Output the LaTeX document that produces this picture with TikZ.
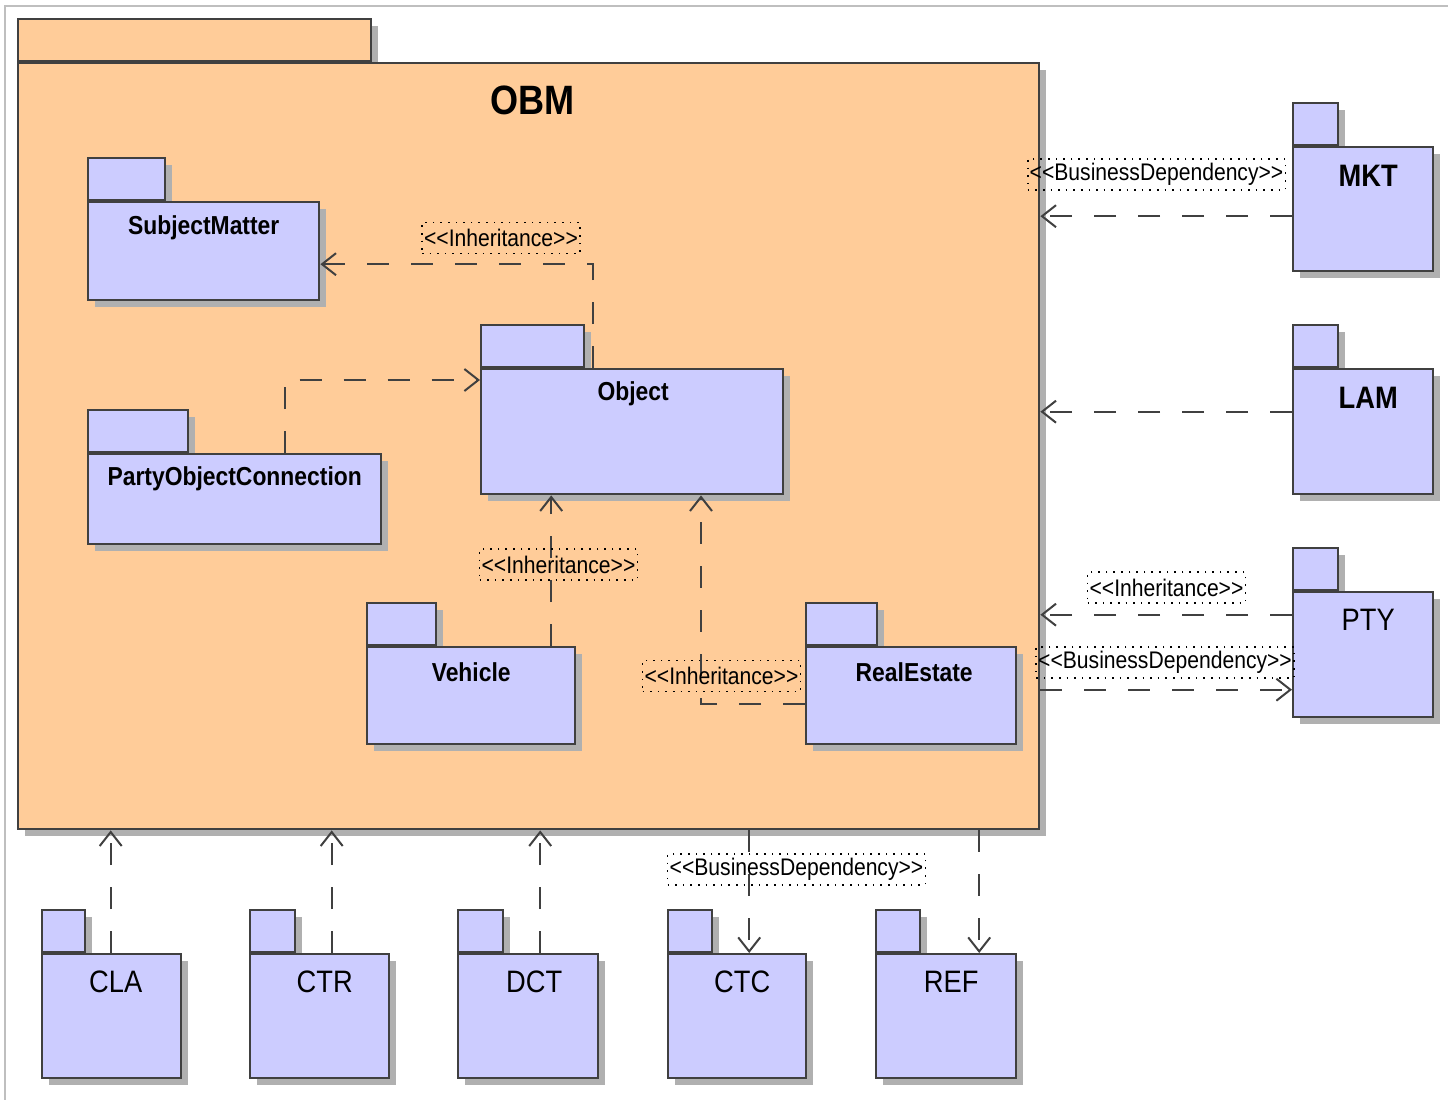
\documentclass[tikz,border=0pt]{standalone}
\usepackage{fontspec}
\newfontfamily\umlfont{Liberation Sans}[FakeStretch=0.88]
\usepackage{tikz}
\usetikzlibrary{arrows.meta, shadows}

\definecolor{pkgfill}{HTML}{CCCCFF}
\definecolor{obmfill}{HTML}{FFCC99}
\definecolor{pkgline}{HTML}{404040}
\definecolor{shadowgray}{HTML}{B0B0B0}

\def\namefont{\umlfont\bfseries\fontsize{26}{30}\selectfont}
\def\bigbold{\umlfont\bfseries\fontsize{31}{36}\selectfont}
\def\bigplain{\umlfont\fontsize{31}{36}\selectfont}
\def\titlefont{\umlfont\bfseries\fontsize{41}{48}\selectfont}
\def\stereofont{\umlfont\fontsize{24}{28}\selectfont}
\def\stl{<\kern0pt<}
\def\str{>\kern0pt>}

\tikzset{
    pkgtab/.style={draw=pkgline, fill=pkgfill, line width=2.4pt, inner sep=0pt,
        anchor=south west, minimum height=42,
        drop shadow={shadow xshift=7pt, shadow yshift=-7pt, fill=shadowgray, opacity=1}},
    pkgbody/.style={draw=pkgline, fill=pkgfill, line width=2.4pt, inner sep=0pt,
        anchor=north west,
        drop shadow={shadow xshift=7pt, shadow yshift=-7pt, fill=shadowgray, opacity=1}},
    dep/.style={draw=pkgline, line width=2pt, dash pattern=on 22pt off 22pt,
        -{Straight Barb[length=14pt, width=22pt]}},
    stereo/.style={draw=black, line width=1.6pt, dash pattern=on 1.6pt off 6pt,
        inner xsep=2pt, inner ysep=0pt, minimum height=31pt, font=\stereofont}
}

\begin{document}
\begin{tikzpicture}[x=1pt, y=-1pt]
    \useasboundingbox (0,0) rectangle (1448,1100);
    \fill[white] (0,0) rectangle (1448,1100);

    % frame
    \draw[black!25, line width=1.5pt] (5,1100) -- (5,6) -- (1448,6);

    % OBM package
    \node[pkgtab, fill=obmfill, minimum width=353] (OBM-tab) at (17,62) {};
    \node[pkgbody, fill=obmfill, minimum width=1021, minimum height=766,
        label={[font=\titlefont, anchor=center, xshift=4pt, yshift=-38pt]north:OBM}] (OBM) at (17,62) {};

    % packages
    \foreach \name/\x/\y/\w/\h/\tw/\dx/\dy/\fnt/\txt in {
        SubjectMatter/87/201/231/98/77/0/27/\namefont/SubjectMatter,
        PartyObjectConnection/87/453/293/90/100/0/26/\namefont/PartyObjectConnection,
        Object/480/368/302/125/103/1/26/\namefont/Object,
        Vehicle/366/646/208/97/69/0/26/\namefont/Vehicle,
        RealEstate/805/646/210/97/71/3/26/\namefont/RealEstate,
        MKT/1292/146/140/124/45/5/30/\bigbold/MKT,
        LAM/1292/368/140/125/45/5/30/\bigbold/LAM,
        PTY/1292/591/140/125/45/5/29/\bigplain/PTY,
        CLA/41/953/139/124/43/4/29/\bigplain/CLA,
        CTR/249/953/139/124/45/5/29/\bigplain/CTR,
        DCT/457/953/140/124/45/6/29/\bigplain/DCT,
        CTC/667/953/138/124/44/5/29/\bigplain/CTC,
        REF/875/953/140/124/44/5/29/\bigplain/REF}{

        \node[pkgtab, minimum width=\tw] (\name-tab) at (\x,\y) {};
        \node[pkgbody, minimum width=\w, minimum height=\h,
            label={[font=\fnt, anchor=center, xshift=\dx pt, yshift=-\dy pt]north:\txt}] (\name) at (\x,\y) {};
    }

    % dependencies inside OBM
    \draw[dep] ([xshift=113pt]Object.north west) |- ([yshift=-13pt]SubjectMatter.east);
    \draw[dep] ([xshift=50pt]PartyObjectConnection.north) |- ([yshift=-12pt]Object.north west);
    \coordinate (vh) at ([xshift=80pt]Vehicle.north);
    \draw[dep] (vh) -- (vh |- Object.south);
    \draw[dep] ([yshift=-8pt]RealEstate.west) -| ([xshift=221pt]Object.south west);

    % dependencies on the right
    \coordinate (mk) at ([yshift=-7pt]MKT.west);
    \coordinate (la) at ([yshift=20pt]LAM.west);
    \coordinate (pt1) at ([yshift=40pt]PTY.west);
    \coordinate (pt2) at ([yshift=-35pt]PTY.west);
    \draw[dep] (mk) -- (mk -| OBM.east);
    \draw[dep] (la) -- (la -| OBM.east);
    \draw[dep] (pt1) -- (pt1 -| OBM.east);
    \draw[dep] (pt2 -| OBM.east) -- (pt2);

    % dependencies below
    \foreach \pk/\dx in {CLA/-1, CTR/12, DCT/12}{
        \coordinate (\pk-up) at ([xshift=\dx pt]\pk.north);
        \draw[dep] (\pk-up) -- (\pk-up |- OBM.south);
    }
    \foreach \pk/\dx in {CTC/12, REF/33}{
        \coordinate (\pk-dn) at ([xshift=\dx pt]\pk.north);
        \draw[dep] (\pk-dn |- OBM.south) -- (\pk-dn);
    }

    % stereotypes
    \node[stereo] (inhSubject) at (501,238) {\stl Inheritance\str};
    \node[stereo] (inhVehicle) at (558.5,564.5) {\stl Inheritance\str};
    \node[stereo] (inhEstate) at (721.5,676) {\stl Inheritance\str};
    \node[stereo] (bdMKT) at (1156.5,174.5) {\stl BusinessDependency\str};
    \node[stereo] (inhPTY) at (1166.5,587.5) {\stl Inheritance\str};
    \node[stereo] (bdPTY) at (1165,662.5) {\stl BusinessDependency\str};
    \node[stereo] (bdCTC) at (796.5,869.5) {\stl BusinessDependency\str};
\end{tikzpicture}
\end{document}
